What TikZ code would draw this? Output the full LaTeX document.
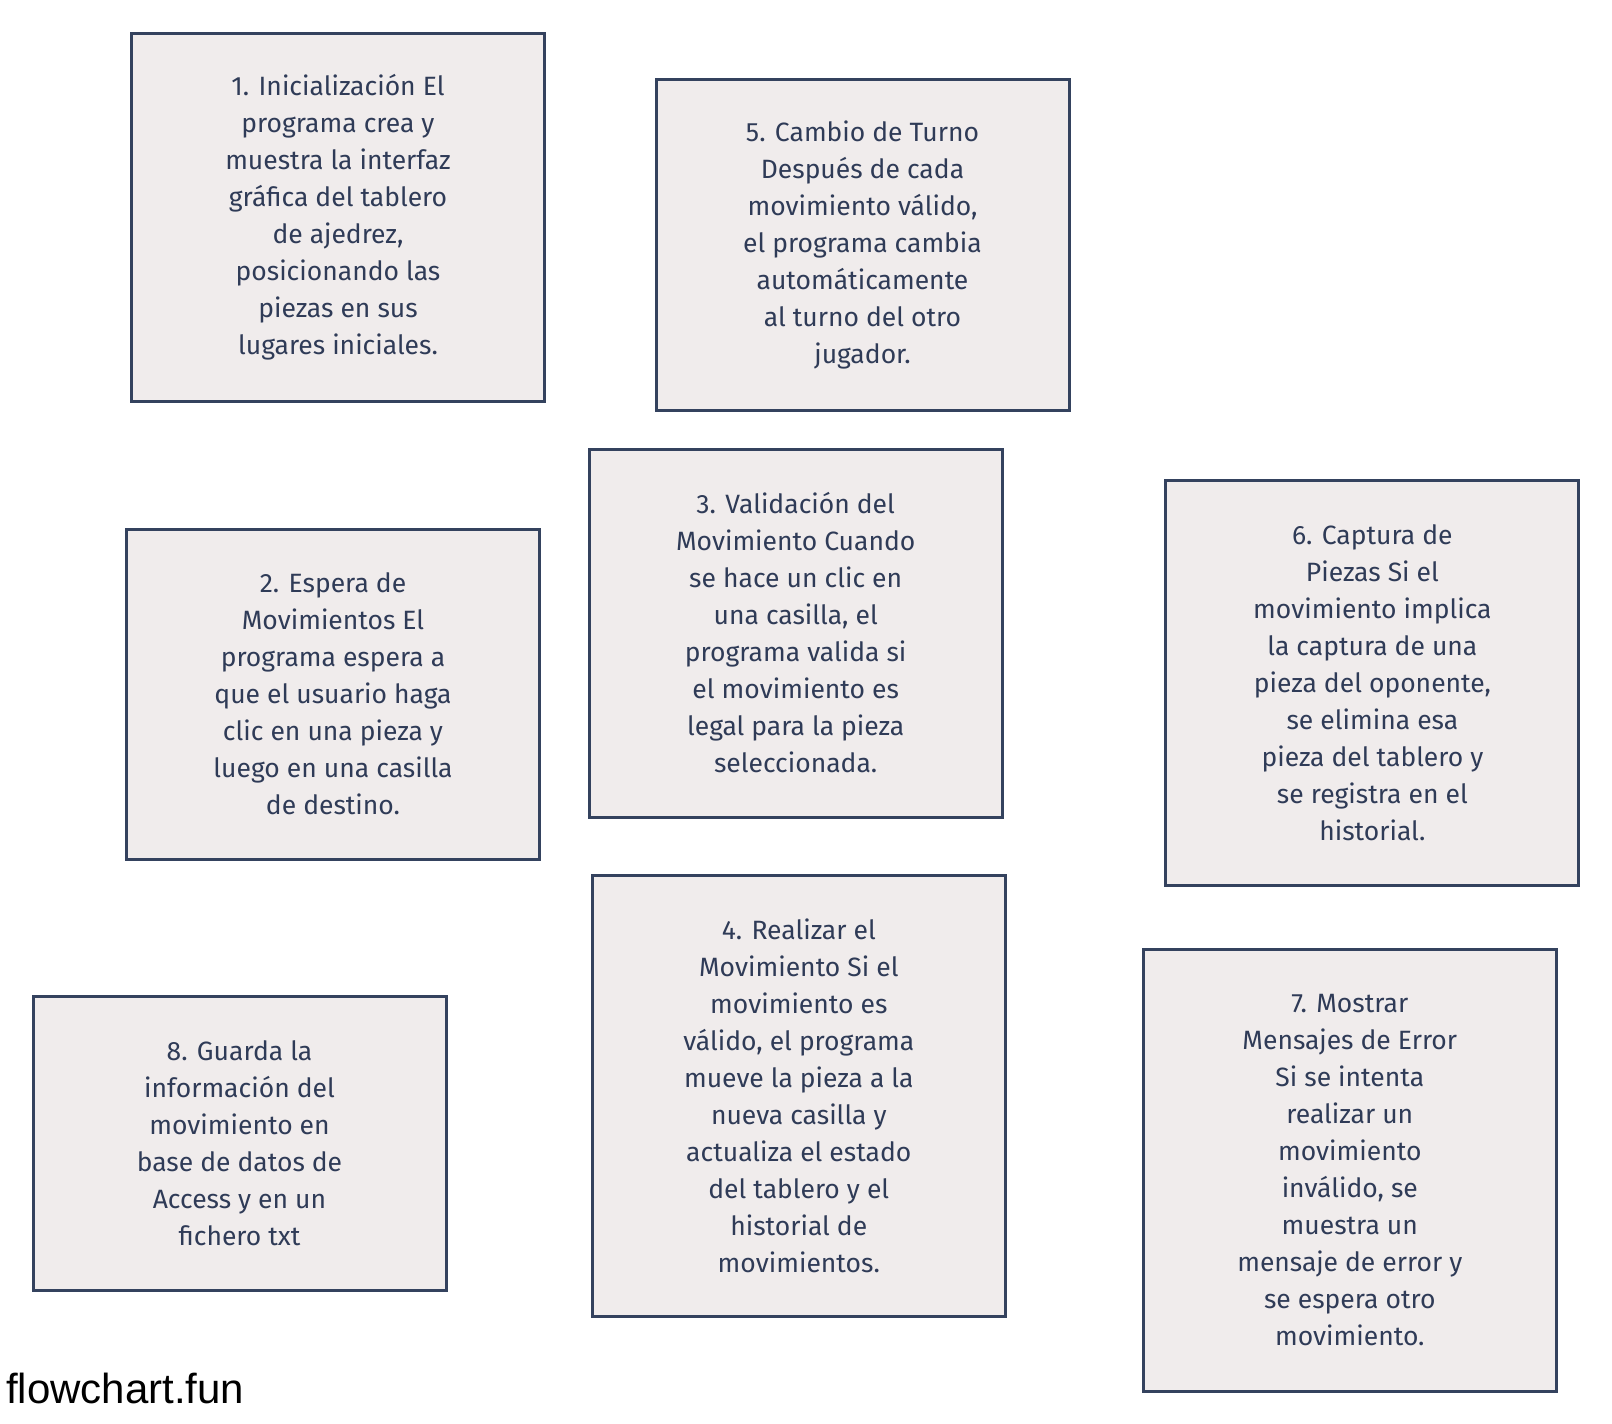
\documentclass[tikz,border=0pt]{standalone}
\usepackage{fontspec}
\setmainfont{Fira Sans}
\newfontfamily\markfont{Liberation Sans}
\usepackage{xcolor}

\definecolor{boxline}{HTML}{34425E}
\definecolor{boxfill}{HTML}{F0ECEC}
\definecolor{boxtext}{HTML}{2F3B57}

\tikzset{
    stepbox/.style={draw=boxline, fill=boxfill, line width=3pt,
        minimum width=413pt, align=center, text=boxtext,
        font=\fontsize{26.5}{37}\selectfont}
}

\begin{document}
\begin{tikzpicture}[x=1pt,y=-1pt]
    \useasboundingbox[fill=white] (0,0) rectangle (1612,1424);

    % Left column
    \node[stepbox, minimum height=368pt] (init) at (338,217)
        {1. Inicialización El\\programa crea y\\muestra la interfaz\\gráfica del tablero\\de ajedrez,\\posicionando las\\piezas en sus\\lugares iniciales.};
    \node[stepbox, minimum height=330pt] (espera) at (333,694)
        {2. Espera de\\Movimientos El\\programa espera a\\que el usuario haga\\clic en una pieza y\\luego en una casilla\\de destino.};
    \node[stepbox, minimum height=294pt] (guarda) at (239.5,1143)
        {8. Guarda la\\información del\\movimiento en\\base de datos de\\Access y en un\\fichero txt};

    % Middle column
    \node[stepbox, minimum height=331pt] (turno) at (862.5,245)
        {5. Cambio de Turno\\Después de cada\\movimiento válido,\\el programa cambia\\automáticamente\\al turno del otro\\jugador.};
    \node[stepbox, minimum height=368pt] (valida) at (795.7,633)
        {3. Validación del\\Movimiento Cuando\\se hace un clic en\\una casilla, el\\programa valida si\\el movimiento es\\legal para la pieza\\seleccionada.};
    \node[stepbox, minimum height=441pt] (mueve) at (798.8,1096)
        {4. Realizar el\\Movimiento Si el\\movimiento es\\válido, el programa\\mueve la pieza a la\\nueva casilla y\\actualiza el estado\\del tablero y el\\historial de\\movimientos.};

    % Right column
    \node[stepbox, minimum height=405pt] (captura) at (1372.4,682.5)
        {6. Captura de\\Piezas Si el\\movimiento implica\\la captura de una\\pieza del oponente,\\se elimina esa\\pieza del tablero y\\se registra en el\\historial.};
    \node[stepbox, minimum height=442pt] (error) at (1349.8,1170)
        {7. Mostrar\\Mensajes de Error\\Si se intenta\\realizar un\\movimiento\\inválido, se\\muestra un\\mensaje de error y\\se espera otro\\movimiento.};

    % Watermark
    \node[anchor=base west, inner sep=0pt, font=\markfont\fontsize{42}{42}\selectfont] (marca) at (6,1403) {flowchart.fun};
\end{tikzpicture}
\end{document}
